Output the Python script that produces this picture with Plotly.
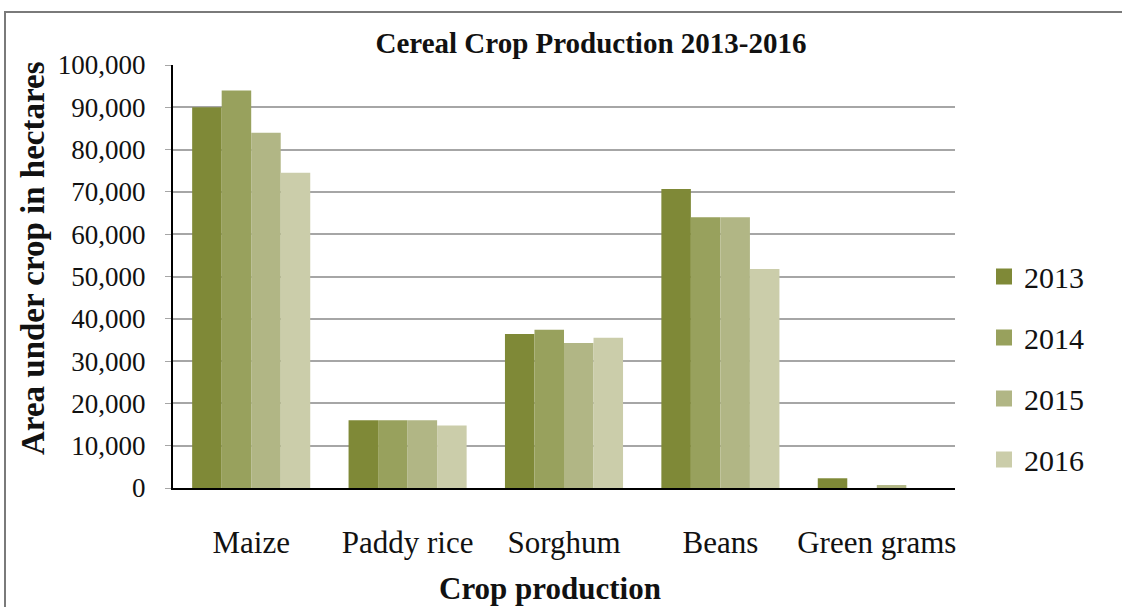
import plotly.graph_objects as go

categories = ["Maize", "Paddy rice", "Sorghum", "Beans", "Green grams"]
years = ["2013", "2014", "2015", "2016"]
v2013 = [90000, 16000, 36400, 70700, 2300]
v2014 = [94000, 16000, 37400, 64000, 0]
v2015 = [84000, 16000, 34300, 64000, 700]
v2016 = [74500, 14800, 35500, 51800, 0]
series = [v2013, v2014, v2015, v2016]
colors = ["#7f8937", "#98a15d", "#b1b685", "#cbcdaa"]

W, H = 1122, 607
L, R, T, B = 173, 167, 65, 119
pw, ph = W - L - R, H - T - B
font = "Liberation Serif, Times New Roman, serif"

fig = go.Figure()
for y, vals, c in zip(years, series, colors):
    fig.add_trace(go.Bar(x=categories, y=vals, name=y, showlegend=False,
                         marker=dict(color=c, line=dict(width=0)), legendgroup=y))
for y, c in zip(years, colors):
    fig.add_trace(go.Scatter(x=[None], y=[None], mode="markers", name=y, legendgroup=y,
                             marker=dict(symbol="square", size=16, color=c)))

fig.update_layout(
    width=W, height=H,
    margin=dict(l=L, r=R, t=T, b=B),
    paper_bgcolor="white", plot_bgcolor="white",
    font=dict(family=font, color="#111", size=27),
    barmode="group", bargap=0.245, bargroupgap=0,
    showlegend=True,
    legend=dict(x=(984 - L) / pw, y=1 - (368 - T) / ph, xanchor="left", yanchor="middle",
                font=dict(size=30, family=font), tracegroupgap=19, itemsizing="trace",
                traceorder="grouped", bgcolor="rgba(0,0,0,0)"),
    title=dict(text="<b>Cereal Crop Production 2013-2016</b>", x=591 / W, xanchor="center",
               y=1 - 43 / H, yanchor="middle", font=dict(size=29, family=font)),
)
fig.update_xaxes(showline=True, linecolor="#000", linewidth=2, showgrid=False,
                 ticks="", ticklabelstandoff=26,
                 tickfont=dict(size=31, family=font))
fig.update_yaxes(range=[0, 100000], dtick=10000, tickformat=",d",
                 showline=True, linecolor="#000", linewidth=2,
                 showgrid=True, gridcolor="#a6a6a6", gridwidth=1.5,
                 ticks="outside", ticklen=6, tickcolor="#a6a6a6", ticklabelstandoff=14,
                 tickfont=dict(size=27, family=font), zeroline=False)

fig.add_annotation(text="<b>Crop production</b>", xref="paper", yref="paper",
                   x=0.5 + (550 - (L + pw / 2)) / pw, y=-(588 - (T + ph)) / ph,
                   xanchor="center", yanchor="middle", showarrow=False,
                   font=dict(size=31, family=font))
fig.add_annotation(text="<b>Area under crop in hectares</b>", xref="paper", yref="paper",
                   x=(33 - L) / pw, y=1 - (258 - T) / ph, textangle=-90,
                   xanchor="center", yanchor="middle", showarrow=False,
                   font=dict(size=33, family=font))

# outer frame
fig.add_shape(type="rect", xref="paper", yref="paper",
              x0=(5 - L) / pw, x1=(1130 - L) / pw,
              y0=-(620 - (T + ph)) / ph, y1=1 + (T - 12) / ph,
              line=dict(color="#7a7a7a", width=2), layer="below")

fig.write_html("out.html", config={"displayModeBar": False},
               post_script="document.body.style.margin='0';")
